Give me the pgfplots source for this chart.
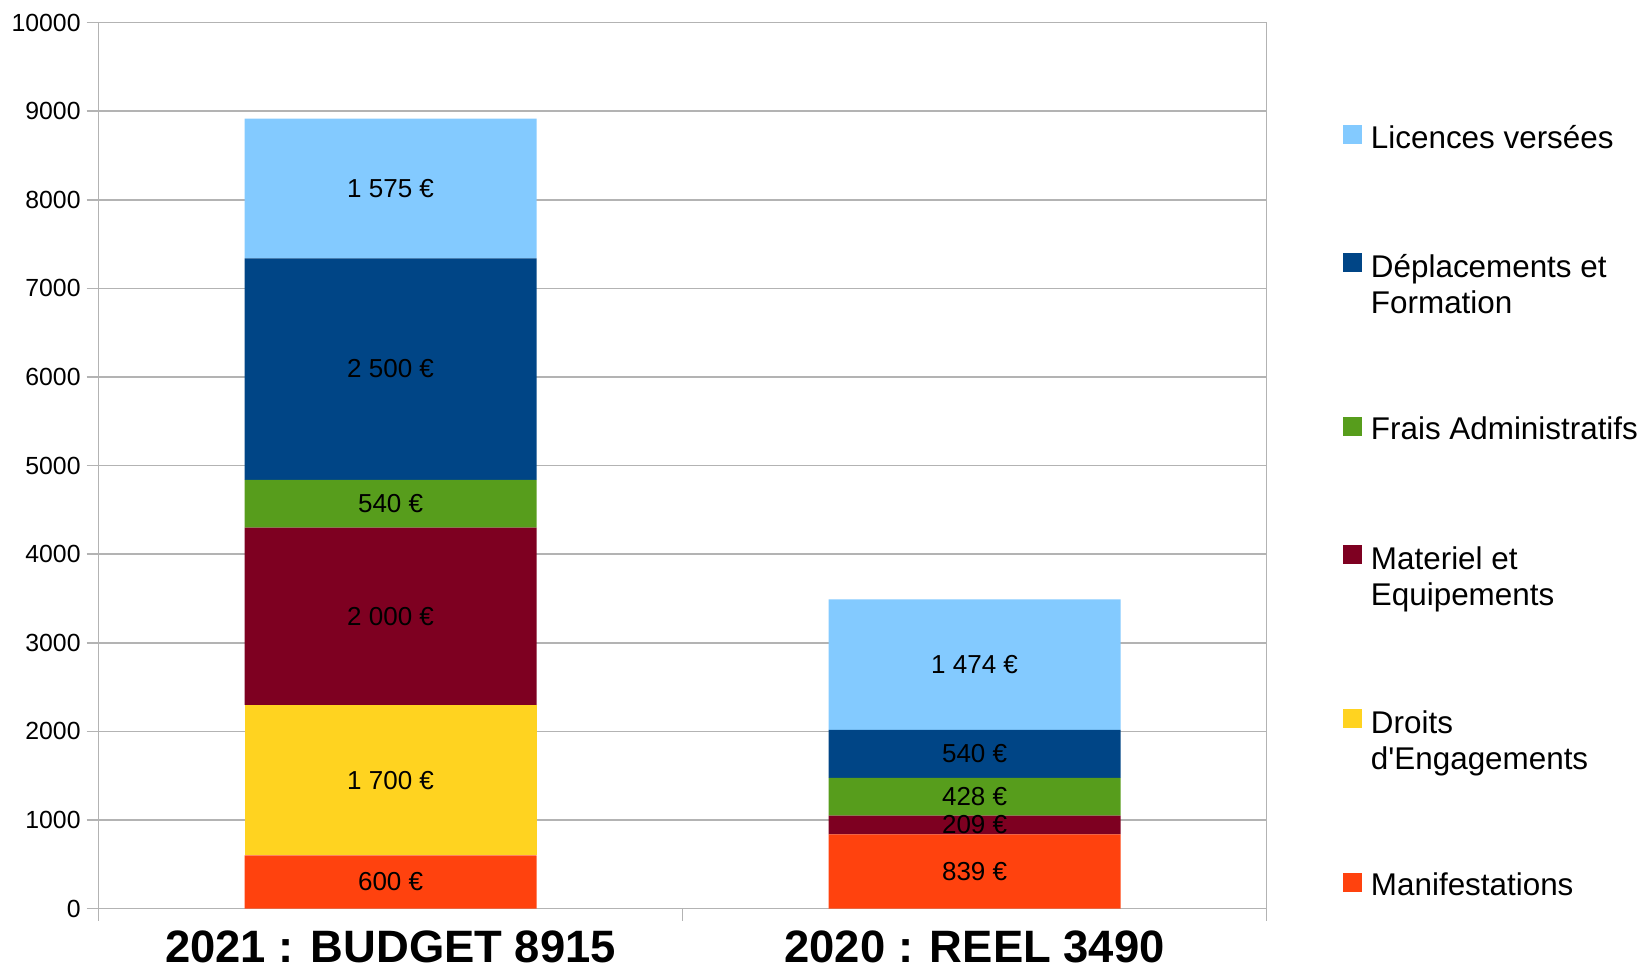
\documentclass[border=0pt]{standalone}
\usepackage{fontspec}
\setmainfont{Liberation Sans}
\usepackage{pgfplots}
\pgfplotsset{compat=1.18}
\definecolor{cLic}{HTML}{83CAFF}
\definecolor{cDep}{HTML}{004586}
\definecolor{cFra}{HTML}{579D1C}
\definecolor{cMat}{HTML}{7E0021}
\definecolor{cDro}{HTML}{FFD320}
\definecolor{cMan}{HTML}{FF420E}
\definecolor{gridgray}{HTML}{B3B3B3}
\newcommand\lgtwo[2]{\vtop{\hbox{\strut #1}\hbox{\strut #2}}}
\pgfplotsset{
  sqone/.style={draw=none, legend image code/.code={%
    \path[draw=none,fill=none] (0bp,-44bp) rectangle (1bp,20bp);
    \fill[##1] (0bp,-3bp) rectangle (9.5bp,6.5bp);}},
  sqtwo/.style={draw=none, legend image code/.code={%
    \path[draw=none,fill=none] (0bp,-62bp) rectangle (1bp,20bp);
    \fill[##1] (0bp,-3bp) rectangle (9.5bp,6.5bp);}},
}
\begin{document}
\begin{tikzpicture}
\begin{axis}[
  at={(0,0)}, anchor=south west,
  scale only axis, width=584bp, height=443bp,
  ybar stacked, bar width=0.5,
  xmin=-0.5, xmax=1.5, ymin=0, ymax=10000,
  xtick={-0.5,0.5,1.5}, xticklabels={,,},
  extra x ticks={0,1},
  extra x tick labels={2021 : BUDGET 8915, 2020 : REEL 3490},
  extra x tick style={major tick length=0pt, grid=none,
     xticklabel style={font=\fontsize{22.7bp}{26bp}\selectfont\bfseries,
       inner sep=0pt, yshift=-11bp}},
  ytick={0,1000,...,10000},
  scaled y ticks=false,
  ymajorgrids, grid style={draw=gridgray, line width=0.75bp},
  axis line style={draw=gridgray, line width=0.75bp},
  tick style={draw=gridgray, line width=0.75bp},
  tick align=outside, major tick length=6bp,
  xtick pos=bottom, ytick pos=left,
  yticklabel style={font=\fontsize{12.4bp}{14bp}\selectfont, xshift=0.5bp},
  /pgf/number format/assume math mode=true,
  /pgf/number format/1000 sep={},
  point meta=explicit symbolic,
  nodes near coords,
  every node near coord/.append style={anchor=center, text=black,
     font=\fontsize{13bp}{15bp}\selectfont},
  reverse legend,
  legend cell align=left,
  legend style={draw=none, fill=none, inner sep=0pt, outer sep=0pt,
     row sep=0pt, column sep=2.5bp,
     at={(axis description cs:1,1)}, anchor=north west,
     xshift=38.2bp, yshift=-37.7bp,
     font=\fontsize{15.7bp}{18bp}\selectfont},
]
\addplot[sqone, fill=cMan] coordinates {(0,600) [600 €] (1,839) [839 €]};
\addlegendentry{Manifestations}
\addplot[sqtwo, fill=cDro] coordinates {(0,1700) [1 700 €] (1,0) []};
\addlegendentry{\lgtwo{Droits}{d\textquotesingle Engagements}}
\addplot[sqtwo, fill=cMat] coordinates {(0,2000) [2 000 €] (1,209) [209 €]};
\addlegendentry{\lgtwo{Materiel et}{Equipements}}
\addplot[sqone, fill=cFra] coordinates {(0,540) [540 €] (1,428) [428 €]};
\addlegendentry{Frais Administratifs}
\addplot[sqtwo, fill=cDep] coordinates {(0,2500) [2 500 €] (1,540) [540 €]};
\addlegendentry{\lgtwo{Déplacements et}{Formation}}
\addplot[sqone, fill=cLic] coordinates {(0,1575) [1 575 €] (1,1474) [1 474 €]};
\addlegendentry{Licences versées}
\end{axis}
\pgfresetboundingbox
\path (-49.3bp,-32.7bp) rectangle (772.7bp,454.3bp);
\end{tikzpicture}
\end{document}
